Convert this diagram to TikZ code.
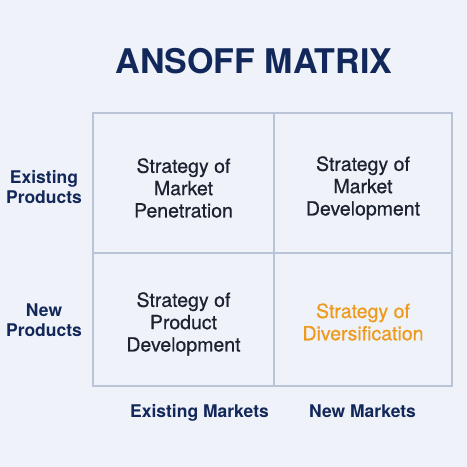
\documentclass[tikz,border=0pt]{standalone}
\usepackage{fontspec}
\setmainfont{TeX Gyre Heros}
\newfontfamily\medfont[FakeBold=0.6]{TeX Gyre Heros}
\definecolor{bgc}{HTML}{EFF3F9}
\definecolor{gridc}{HTML}{B9C5D7}
\definecolor{navy}{HTML}{13285A}
\definecolor{cellt}{HTML}{1C2230}
\definecolor{orng}{HTML}{EE9A1E}
\begin{document}
\begin{tikzpicture}[x=1pt,y=-1pt,
  gridline/.style={draw=gridc,line width=1.4pt},
  celltext/.style={align=center,text=cellt,inner sep=0pt,font=\medfont\fontsize{19.5}{22.3}\selectfont},
  axistext/.style={align=center,text=navy,inner sep=0pt,font=\bfseries\fontsize{17.5}{20}\selectfont},
  titletext/.style={text=navy,inner sep=0pt,font=\bfseries\fontsize{34}{40}\selectfont}]
\fill[bgc] (0,0) rectangle (467,467);
\useasboundingbox (0,0) rectangle (467,467);
% grid
\coordinate (tl) at (93,113);
\coordinate (br) at (452,386);
\coordinate (mt) at (274,113);
\coordinate (mb) at (274,386);
\coordinate (ml) at (93,253);
\coordinate (mr) at (452,253);
\draw[gridline] (tl) rectangle (br);
\draw[gridline] (mt) -- (mb);
\draw[gridline] (ml) -- (mr);
% title
\node[titletext,anchor=base] (title) at (254,73) {ANSOFF MATRIX};
% cells
\node[celltext] (c1) at (183.5,188) {Strategy of\\Market\\Penetration};
\node[celltext] (c2) at (363,188) {Strategy of\\Market\\Development};
\node[celltext] (c3) at (183.5,324) {Strategy of\\Product\\Development};
\node[celltext,text=orng] (c4) at (363,322) {Strategy of\\Diversification};
% axis labels
\node[axistext] (ep) at (44,187) {Existing\\Products};
\node[axistext] (np) at (44,320) {New\\Products};
\node[axistext,anchor=base] (em) at (199.5,417) {Existing Markets};
\node[axistext,anchor=base] (nm) at (362.5,417) {New Markets};
\end{tikzpicture}
\end{document}
